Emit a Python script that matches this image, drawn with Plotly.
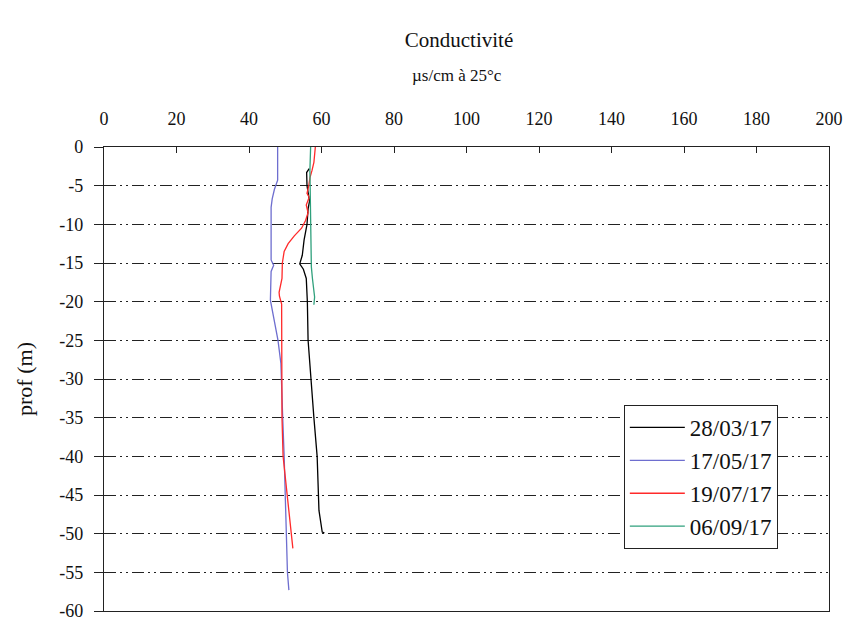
import plotly.graph_objects as go

# ---- data (conductivity µs/cm à 25°c vs depth m) ----
d_0328 = [-2.8, -3.3, -5, -7, -8, -10, -12, -14, -15.1, -15.8, -17, -20, -25, -30, -35, -40, -45, -47, -49.8, -49.9]
c_0328 = [56.6, 55.9, 56.0, 56.7, 56.3, 56.0, 55.2, 54.7, 54.0, 55.0, 55.8, 56.1, 56.3, 57.0, 57.9, 58.8, 59.1, 59.3, 60.2, 60.8]

d_0517 = [0, -4.3, -5.5, -6.7, -7.8, -14.6, -15.3, -16.1, -19.8, -25, -28, -30, -35, -40, -45, -50, -55, -57.3]
c_0517 = [47.9, 47.9, 47.0, 46.4, 46.1, 46.1, 46.8, 46.1, 45.9, 48.0, 48.8, 49.0, 49.3, 49.7, 50.0, 50.2, 50.6, 51.0]

d_0719 = [0, -1, -2, -3, -4, -5, -6, -6.5, -7.5, -8.5, -9.5, -10.5, -11.5, -12.5, -13.5, -15, -17, -18.8, -19.3, -20.3, -25, -30, -35, -40, -45, -50, -51.9]
c_0719 = [58.3, 58.2, 57.9, 57.4, 56.8, 56.5, 56.0, 56.6, 55.8, 56.3, 55.6, 54.5, 52.5, 50.8, 49.7, 49.2, 49.1, 48.3, 48.4, 49.0, 49.0, 49.0, 49.1, 49.4, 50.5, 51.6, 52.1]

d_0906 = [0, -3, -6, -9, -12, -15.5, -17, -18.5, -19.4, -20.4]
c_0906 = [57.0, 56.8, 56.9, 57.0, 57.2, 57.2, 57.5, 57.9, 58.1, 57.9]

series_names = ["28/03/17", "17/05/17", "19/07/17", "06/09/17"]
series_colors = ["#000000", "#6E6ECF", "#FF2A2A", "#2FA07C"]
series_x = [c_0328, c_0517, c_0719, c_0906]
series_y = [d_0328, d_0517, d_0719, d_0906]

x_ticks = list(range(0, 201, 20))
y_ticks = list(range(-60, 1, 5))
y_tick_text = [str(v) for v in y_ticks]

FONT = "Liberation Serif, Times New Roman, serif"

fig = go.Figure()
for name, col, xs, ys in zip(series_names, series_colors, series_x, series_y):
    fig.add_trace(go.Scatter(x=xs, y=ys, mode="lines", name=name,
                             line=dict(color=col, width=1.3)))

fig.update_layout(
    width=851, height=619,
    margin=dict(l=104, r=22, t=147, b=8),
    paper_bgcolor="white", plot_bgcolor="white",
    font=dict(family=FONT, size=16, color="#111111"),
    showlegend=True,
    legend=dict(x=0.717, y=0.444, xanchor="left", yanchor="top",
                bordercolor="#222222", borderwidth=1, bgcolor="white",
                font=dict(family=FONT, size=23), tracegroupgap=0,
                itemwidth=55),
    title=dict(text="Conductivité", x=459/851, xanchor="center",
               y=1 - 40/619, yanchor="middle",
               font=dict(family=FONT, size=21, color="#111111")),
    annotations=[dict(text="µs/cm à 25°c", xref="paper", yref="paper",
                      x=(457 - 104) / 725, y=(611 - 75) / 464, xanchor="center", yanchor="middle",
                      showarrow=False, font=dict(family=FONT, size=17, color="#111111"))],
)

fig.update_xaxes(range=[0, 200], tickvals=x_ticks, side="top",
                 ticks="inside", ticklen=6, tickcolor="#222222",
                 showline=True, linecolor="#222222", linewidth=1.2, mirror=True,
                 showgrid=False, zeroline=False, ticklabelstandoff=14,
                 automargin=False,
                 tickfont=dict(family=FONT, size=18))
fig.update_yaxes(range=[-60, 0], tickvals=y_ticks, ticktext=y_tick_text,
                 ticks="outside", ticklen=9, tickcolor="#222222",
                 showline=True, linecolor="#222222", linewidth=1.2, mirror=True,
                 showgrid=True, gridcolor="#222222", gridwidth=1,
                 griddash="12px,4px,2px,4px,2px,4px",
                 zeroline=False, ticklabelstandoff=7, ticklabeloverflow="allow",
                 automargin=False,
                 title=dict(text="prof (m)", font=dict(family=FONT, size=22), standoff=20),
                 tickfont=dict(family=FONT, size=18))

fig.write_html("out.html")
